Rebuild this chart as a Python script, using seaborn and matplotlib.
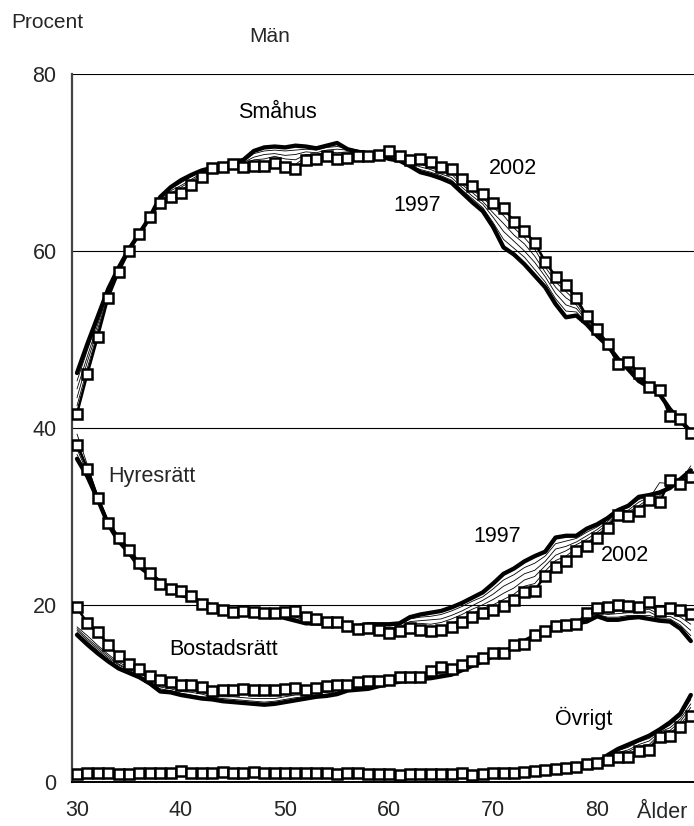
import matplotlib
matplotlib.use("Agg")
import matplotlib.pyplot as plt
import seaborn as sns

ages = list(range(30, 90))
years = [1997, 1998, 1999, 2000, 2001, 2002]

smahus_1997 = [46.2, 49.5, 52.6, 55.7, 58.1, 60.2, 62.0, 63.8, 66.1, 67.2,
               68.0, 68.6, 69.1, 69.4, 69.7, 70.0, 70.3, 71.3, 71.7, 71.8,
               71.7, 71.9, 71.8, 71.6, 71.9, 72.2, 71.5, 71.2, 71.0, 70.8,
               70.4, 70.2, 69.6, 68.9, 68.6, 68.2, 67.7, 66.6, 65.5, 64.5,
               62.7, 60.4, 59.6, 58.5, 57.2, 55.9, 54.0, 52.5, 52.7, 51.7,
               50.4, 49.3, 47.8, 46.6, 45.3, 44.6, 43.8, 42.1, 40.8, 39.6]
smahus_1998 = [45.3, 48.8, 52.1, 55.5, 58.0, 60.2, 62.0, 63.8, 66.0, 67.0,
               67.7, 68.4, 69.0, 69.4, 69.7, 70.0, 70.1, 71.0, 71.3, 71.4,
               71.3, 71.4, 71.5, 71.4, 71.7, 71.8, 71.6, 71.4, 71.2, 70.9,
               70.6, 70.3, 69.7, 69.2, 68.9, 68.5, 68.0, 66.9, 65.9, 64.9,
               63.2, 61.3, 60.3, 59.3, 57.9, 56.5, 54.6, 53.2, 53.1, 51.9,
               50.6, 49.3, 47.7, 46.8, 45.5, 44.6, 43.9, 41.9, 40.8, 39.6]
smahus_1999 = [44.4, 48.1, 51.7, 55.3, 57.9, 60.1, 62.0, 63.8, 65.8, 66.8,
               67.4, 68.1, 68.8, 69.4, 69.6, 69.9, 70.0, 70.6, 70.9, 71.0,
               70.8, 70.9, 71.2, 71.1, 71.4, 71.5, 71.4, 71.3, 71.0, 70.9,
               70.8, 70.4, 69.9, 69.5, 69.2, 68.7, 68.3, 67.2, 66.2, 65.3,
               63.8, 62.2, 61.1, 60.0, 58.7, 57.1, 55.2, 53.9, 53.5, 52.1,
               50.7, 49.4, 47.6, 47.0, 45.7, 44.6, 44.0, 41.8, 40.9, 39.5]
smahus_2000 = [43.4, 47.5, 51.2, 55.1, 57.8, 60.1, 61.9, 63.8, 65.7, 66.5,
               67.2, 67.9, 68.7, 69.4, 69.6, 69.9, 69.8, 70.3, 70.4, 70.7,
               70.4, 70.3, 70.9, 70.9, 71.2, 71.1, 71.2, 71.0, 70.9, 70.9,
               70.9, 70.5, 70.0, 69.8, 69.4, 69.0, 68.7, 67.5, 66.6, 65.6,
               64.3, 63.1, 61.8, 60.8, 59.4, 57.6, 55.9, 54.7, 53.9, 52.2,
               50.9, 49.4, 47.4, 47.1, 45.8, 44.6, 44.1, 41.6, 40.9, 39.5]
smahus_2001 = [42.5, 46.8, 50.8, 54.9, 57.7, 60.0, 61.9, 63.8, 65.5, 66.3,
               66.9, 67.6, 68.5, 69.4, 69.5, 69.8, 69.7, 69.9, 70.0, 70.3,
               69.9, 69.8, 70.6, 70.6, 70.9, 70.8, 70.9, 70.9, 70.8, 70.9,
               71.1, 70.6, 70.2, 70.1, 69.7, 69.2, 69.0, 67.8, 66.9, 66.0,
               64.9, 64.0, 62.6, 61.5, 60.2, 58.2, 56.5, 55.4, 54.3, 52.4,
               51.0, 49.5, 47.3, 47.3, 46.0, 44.6, 44.2, 41.5, 41.0, 39.4]
smahus_2002 = [41.6, 46.1, 50.3, 54.7, 57.6, 60.0, 61.9, 63.8, 65.4, 66.1,
               66.6, 67.4, 68.4, 69.4, 69.5, 69.8, 69.5, 69.6, 69.6, 69.9,
               69.5, 69.3, 70.3, 70.4, 70.7, 70.4, 70.5, 70.7, 70.7, 70.9,
               71.3, 70.7, 70.3, 70.4, 70.0, 69.5, 69.3, 68.1, 67.3, 66.4,
               65.4, 64.9, 63.3, 62.3, 60.9, 58.8, 57.1, 56.1, 54.7, 52.6,
               51.2, 49.5, 47.2, 47.5, 46.2, 44.6, 44.3, 41.3, 41.0, 39.4]

hyres_1997 = [36.5, 34.5, 31.9, 29.1, 27.2, 25.9, 24.3, 23.4, 22.6, 21.7,
              21.1, 20.8, 20.3, 19.9, 19.7, 19.4, 19.2, 19.1, 19.0, 18.8,
              18.5, 18.2, 17.9, 17.9, 17.8, 17.7, 17.6, 17.6, 17.8, 17.8,
              17.8, 17.9, 18.6, 18.9, 19.1, 19.3, 19.7, 20.2, 20.8, 21.4,
              22.4, 23.5, 24.1, 24.9, 25.5, 26.0, 27.6, 27.8, 27.8, 28.6,
              29.1, 29.8, 30.7, 31.2, 32.2, 32.4, 32.7, 33.2, 34.2, 35.2]
hyres_1998 = [37.0, 34.7, 32.0, 29.1, 27.3, 26.0, 24.4, 23.4, 22.6, 21.8,
              21.2, 20.8, 20.3, 19.8, 19.6, 19.4, 19.2, 19.1, 19.0, 18.9,
              18.6, 18.4, 18.0, 18.0, 17.8, 17.8, 17.6, 17.5, 17.7, 17.7,
              17.6, 17.7, 18.4, 18.6, 18.7, 18.9, 19.3, 19.8, 20.4, 20.9,
              21.8, 22.8, 23.4, 24.2, 24.7, 25.5, 26.9, 27.2, 27.5, 28.2,
              28.8, 29.6, 30.6, 31.0, 31.9, 32.3, 32.5, 33.4, 34.1, 35.0]
hyres_1999 = [37.6, 34.9, 32.0, 29.2, 27.4, 26.1, 24.5, 23.5, 22.5, 21.9,
              21.3, 20.9, 20.2, 19.8, 19.6, 19.3, 19.2, 19.1, 19.0, 18.9,
              18.8, 18.6, 18.2, 18.1, 17.9, 17.8, 17.6, 17.5, 17.6, 17.5,
              17.4, 17.5, 18.1, 18.2, 18.3, 18.4, 18.8, 19.3, 19.9, 20.5,
              21.2, 22.1, 22.7, 23.5, 23.9, 24.9, 26.3, 26.6, 27.1, 27.8,
              28.5, 29.4, 30.5, 30.7, 31.6, 32.2, 32.3, 33.6, 34.0, 35.7]
hyres_2000 = [38.6, 35.3, 32.1, 29.3, 27.6, 26.2, 24.7, 23.6, 22.6, 22.0,
              21.4, 20.9, 20.2, 19.7, 19.5, 19.3, 19.3, 19.2, 19.1, 19.0,
              18.9, 18.9, 18.3, 18.2, 17.9, 17.9, 17.6, 17.4, 17.6, 17.4,
              17.2, 17.4, 17.9, 17.9, 17.8, 18.0, 18.4, 18.9, 19.5, 20.0,
              20.6, 21.3, 21.9, 22.8, 23.2, 24.4, 25.6, 26.1, 26.8, 27.4,
              28.2, 29.1, 30.4, 30.5, 31.2, 32.0, 33.8, 33.7, 33.8, 34.7]
hyres_2001 = [39.3, 35.8, 32.3, 29.5, 27.8, 26.4, 24.9, 23.7, 22.8, 22.1,
              21.5, 21.0, 20.1, 19.7, 19.5, 19.2, 19.3, 19.2, 19.1, 19.0,
              19.1, 19.1, 18.5, 18.3, 18.0, 17.9, 17.6, 17.4, 17.5, 17.2,
              17.0, 17.2, 17.6, 17.5, 17.4, 17.5, 17.9, 18.4, 19.0, 19.6,
              20.0, 20.6, 21.2, 22.1, 22.4, 23.8, 25.0, 25.5, 26.4, 27.0,
              27.9, 28.9, 30.3, 30.2, 30.9, 31.9, 31.8, 33.9, 33.7, 34.6]
hyres_2002 = [38.1, 35.4, 32.1, 29.2, 27.6, 26.2, 24.7, 23.6, 22.4, 21.8,
              21.6, 21.0, 20.1, 19.6, 19.4, 19.2, 19.3, 19.2, 19.1, 19.1,
              19.2, 19.3, 18.6, 18.4, 18.0, 18.0, 17.6, 17.3, 17.4, 17.1,
              16.8, 17.0, 17.4, 17.2, 17.0, 17.1, 17.5, 18.0, 18.6, 19.1,
              19.4, 19.9, 20.5, 21.4, 21.6, 23.3, 24.3, 24.9, 26.1, 26.6,
              27.6, 28.7, 30.2, 30.0, 30.6, 31.8, 31.6, 34.1, 33.6, 34.4]

bostad_1997 = [16.6, 15.5, 14.5, 13.6, 12.8, 12.3, 11.8, 11.1, 10.2, 10.1,
               9.8, 9.6, 9.4, 9.3, 9.1, 9.0, 8.9, 8.8, 8.7, 8.8,
               9.0, 9.2, 9.4, 9.6, 9.7, 9.9, 10.3, 10.4, 10.5, 10.8,
               11.1, 11.3, 11.5, 11.6, 11.7, 11.9, 12.1, 12.6, 13.1, 13.6,
               14.2, 14.6, 15.3, 15.9, 16.5, 17.0, 17.4, 17.7, 17.9, 18.1,
               18.7, 18.3, 18.3, 18.5, 18.6, 18.4, 18.2, 18.1, 17.3, 15.9]
bostad_1998 = [16.9, 15.8, 14.8, 13.8, 13.0, 12.4, 11.9, 11.3, 10.5, 10.3,
               10.0, 9.8, 9.6, 9.5, 9.4, 9.3, 9.2, 9.1, 9.0, 9.1,
               9.3, 9.5, 9.6, 9.8, 9.9, 10.1, 10.4, 10.6, 10.7, 10.9,
               11.2, 11.4, 11.6, 11.6, 11.9, 12.1, 12.2, 12.7, 13.2, 13.7,
               14.3, 14.6, 15.3, 15.8, 16.5, 17.0, 17.4, 17.7, 17.9, 18.3,
               18.9, 18.6, 18.6, 18.8, 18.8, 18.8, 18.4, 18.4, 17.7, 16.5]
bostad_1999 = [17.1, 16.0, 15.0, 14.0, 13.2, 12.6, 12.0, 11.4, 10.7, 10.5,
               10.2, 10.1, 9.9, 9.6, 9.6, 9.6, 9.5, 9.4, 9.4, 9.4,
               9.6, 9.8, 9.8, 10.0, 10.1, 10.3, 10.5, 10.8, 10.9, 11.0,
               11.3, 11.5, 11.6, 11.7, 12.0, 12.3, 12.3, 12.8, 13.3, 13.8,
               14.4, 14.6, 15.4, 15.8, 16.5, 17.0, 17.5, 17.7, 17.9, 18.5,
               19.1, 18.9, 19.0, 19.1, 19.1, 19.2, 18.6, 18.7, 18.1, 17.1]
bostad_2000 = [17.3, 16.2, 15.2, 14.2, 13.3, 12.7, 12.2, 11.6, 10.9, 10.7,
               10.4, 10.3, 10.1, 9.8, 9.9, 9.8, 9.9, 9.8, 9.7, 9.8,
               9.9, 10.0, 10.0, 10.2, 10.4, 10.5, 10.7, 10.9, 11.0, 11.2,
               11.3, 11.6, 11.7, 11.7, 12.2, 12.6, 12.5, 13.0, 13.5, 13.8,
               14.4, 14.5, 15.4, 15.7, 16.6, 17.0, 17.5, 17.7, 17.8, 18.7,
               19.2, 19.2, 19.3, 19.3, 19.3, 19.5, 18.9, 19.0, 18.6, 17.8]
bostad_2001 = [17.5, 16.5, 15.4, 14.4, 13.5, 12.9, 12.3, 11.7, 11.1, 10.9,
               10.6, 10.6, 10.4, 10.0, 10.1, 10.1, 10.2, 10.1, 10.1, 10.1,
               10.2, 10.3, 10.2, 10.4, 10.6, 10.7, 10.8, 11.1, 11.2, 11.3,
               11.4, 11.7, 11.7, 11.8, 12.3, 12.8, 12.6, 13.1, 13.6, 13.9,
               14.5, 14.5, 15.5, 15.7, 16.6, 17.0, 17.6, 17.7, 17.8, 18.9,
               19.4, 19.5, 19.7, 19.6, 19.6, 19.9, 19.1, 19.3, 19.0, 18.4]
bostad_2002 = [19.7, 17.9, 16.9, 15.5, 14.2, 13.3, 12.7, 12.0, 11.5, 11.3,
               10.9, 10.9, 10.7, 10.2, 10.4, 10.4, 10.5, 10.4, 10.4, 10.4,
               10.5, 10.6, 10.4, 10.6, 10.8, 10.9, 10.9, 11.3, 11.4, 11.4,
               11.5, 11.8, 11.8, 11.8, 12.5, 13.0, 12.7, 13.2, 13.7, 14.0,
               14.6, 14.5, 15.5, 15.6, 16.6, 17.0, 17.6, 17.7, 17.8, 19.1,
               19.6, 19.8, 20.0, 19.9, 19.8, 20.3, 19.3, 19.6, 19.4, 19.0]

ovrigt_1997 = [0.8, 0.8, 0.8, 0.8, 0.8, 0.8, 0.8, 0.8, 0.8, 0.8,
               0.8, 0.8, 0.8, 0.8, 0.8, 0.8, 0.8, 0.8, 0.8, 0.8,
               0.8, 0.8, 0.8, 0.8, 0.8, 0.8, 0.8, 0.8, 0.8, 0.8,
               0.8, 0.8, 0.8, 0.8, 0.8, 0.8, 0.8, 0.8, 0.8, 0.8,
               0.8, 0.9, 0.9, 0.9, 0.9, 1.0, 1.2, 1.4, 1.6, 1.9,
               2.1, 3.0, 3.7, 4.2, 4.7, 5.2, 5.9, 6.7, 7.7, 9.8]
ovrigt_1998 = [0.8, 0.9, 0.9, 0.9, 0.8, 0.8, 0.9, 0.9, 0.9, 0.9,
               1.0, 0.9, 0.9, 0.9, 0.9, 0.9, 0.9, 0.9, 0.9, 0.9,
               0.9, 0.9, 0.9, 0.9, 0.9, 0.8, 0.9, 0.9, 0.8, 0.8,
               0.8, 0.8, 0.8, 0.8, 0.8, 0.8, 0.8, 0.9, 0.8, 0.8,
               0.9, 0.9, 0.9, 1.0, 1.0, 1.1, 1.3, 1.4, 1.6, 1.9,
               2.1, 2.9, 3.5, 3.9, 4.5, 4.9, 5.7, 6.4, 7.4, 9.3]
ovrigt_1999 = [0.9, 0.9, 0.9, 0.9, 0.9, 0.9, 0.9, 0.9, 0.9, 0.9,
               1.0, 0.9, 0.9, 0.9, 1.0, 0.9, 0.9, 1.0, 0.9, 0.9,
               0.9, 0.9, 0.9, 0.9, 0.9, 0.9, 0.9, 0.9, 0.9, 0.9,
               0.9, 0.8, 0.9, 0.9, 0.9, 0.9, 0.9, 0.9, 0.8, 0.9,
               0.9, 0.9, 0.9, 1.0, 1.0, 1.1, 1.3, 1.4, 1.6, 1.9,
               2.1, 2.8, 3.3, 3.6, 4.2, 4.6, 5.6, 6.1, 7.1, 8.8]
ovrigt_2000 = [0.9, 0.9, 1.0, 1.0, 0.9, 0.9, 0.9, 1.0, 1.0, 1.0,
               1.1, 1.0, 1.0, 1.0, 1.0, 1.0, 1.0, 1.0, 1.0, 1.0,
               1.0, 1.0, 1.0, 1.0, 1.0, 0.9, 0.9, 0.9, 0.9, 0.9,
               0.9, 0.8, 0.9, 0.9, 0.9, 0.9, 0.9, 1.0, 0.8, 0.9,
               0.9, 1.0, 1.0, 1.0, 1.1, 1.2, 1.3, 1.5, 1.7, 2.0,
               2.1, 2.6, 3.2, 3.4, 4.0, 4.2, 5.4, 5.8, 6.8, 8.4]
ovrigt_2001 = [0.9, 1.0, 1.0, 1.0, 0.9, 0.9, 1.0, 1.0, 1.0, 1.0,
               1.1, 1.0, 1.0, 1.0, 1.1, 1.0, 1.0, 1.0, 1.0, 1.0,
               1.0, 1.0, 1.0, 1.0, 1.0, 0.9, 1.0, 1.0, 0.9, 0.9,
               0.9, 0.8, 0.9, 0.9, 0.9, 0.9, 0.9, 1.0, 0.8, 0.9,
               1.0, 1.0, 1.0, 1.1, 1.1, 1.2, 1.4, 1.5, 1.7, 2.0,
               2.1, 2.5, 3.0, 3.1, 3.7, 3.9, 5.3, 5.5, 6.5, 7.9]
ovrigt_2002 = [0.9, 1.0, 1.0, 1.0, 0.9, 0.9, 1.0, 1.0, 1.0, 1.0,
               1.2, 1.0, 1.0, 1.0, 1.1, 1.0, 1.0, 1.1, 1.0, 1.0,
               1.0, 1.0, 1.0, 1.0, 1.0, 0.9, 1.0, 1.0, 0.9, 0.9,
               0.9, 0.8, 0.9, 0.9, 0.9, 0.9, 0.9, 1.0, 0.8, 0.9,
               1.0, 1.0, 1.0, 1.1, 1.2, 1.3, 1.4, 1.5, 1.7, 2.0,
               2.1, 2.4, 2.8, 2.8, 3.5, 3.6, 5.1, 5.2, 6.2, 7.4]

categories = ["Småhus", "Hyresrätt", "Bostadsrätt", "Övrigt"]
series = {
    "Småhus": [smahus_1997, smahus_1998, smahus_1999, smahus_2000, smahus_2001, smahus_2002],
    "Hyresrätt": [hyres_1997, hyres_1998, hyres_1999, hyres_2000, hyres_2001, hyres_2002],
    "Bostadsrätt": [bostad_1997, bostad_1998, bostad_1999, bostad_2000, bostad_2001, bostad_2002],
    "Övrigt": [ovrigt_1997, ovrigt_1998, ovrigt_1999, ovrigt_2000, ovrigt_2001, ovrigt_2002],
}

y_ticks = [0, 20, 40, 60, 80]
x_labels = [30, 40, 50, 60, 70, 80]

sns.set_style("white")
plt.rcParams['font.family'] = ['Liberation Sans', 'DejaVu Sans']

W, H = 694, 826
fig = plt.figure(figsize=(W / 100, H / 100), dpi=100)
x0, x1, ytop, ybot = 71.8, 696.0, 74.0, 781.7
ax = fig.add_axes([x0 / W, 1 - ybot / H, (x1 - x0) / W, (ybot - ytop) / H])

for cat in categories:
    for year, vals in zip(years, series[cat]):
        if year == 1997:
            sns.lineplot(x=ages, y=vals, ax=ax, color='black', linewidth=3.1,
                         zorder=3, solid_joinstyle='round')
        elif year == 2002:
            sns.lineplot(x=ages, y=vals, ax=ax, color='black', linewidth=1.8,
                         marker='s', markersize=6.8, markerfacecolor='white',
                         markeredgecolor='black', markeredgewidth=1.8, zorder=5)
        else:
            sns.lineplot(x=ages, y=vals, ax=ax, color='black', linewidth=0.6, zorder=4)

ax.set_xlim(29.5, 89.5)
ax.set_ylim(0, 80)
ax.set_yticks(y_ticks)
ax.set_yticklabels([str(v) for v in y_ticks], fontsize=15.5)
ax.set_xticks(x_labels)
ax.set_xticklabels([str(v) for v in x_labels], fontsize=15.5)
ax.set_xticks([v - 0.5 for v in x_labels], minor=True)
ax.tick_params(axis='x', which='major', length=0, pad=13)
ax.tick_params(axis='x', which='minor', length=6, width=1.2, direction='out', color='black')
ax.tick_params(axis='y', which='major', length=6, width=1.2, direction='out', pad=5, color='black')
ax.set_xlabel('')
ax.set_ylabel('')
ax.yaxis.grid(True, color='black', linewidth=0.8)
ax.xaxis.grid(False)
ax.set_axisbelow(True)
for s in ['top', 'right']:
    ax.spines[s].set_visible(False)
ax.spines['left'].set_color('#444444')
ax.spines['left'].set_linewidth(1.6)
ax.spines['bottom'].set_color('black')
ax.spines['bottom'].set_linewidth(1.4)

fs = 15.5
tk = dict(fontsize=fs, ha='center', va='center', color='black')
ax.text(49.3, 75.7, "Småhus", **tk)
ax.text(71.9, 69.3, "2002", **tk)
ax.text(62.7, 65.1, "1997", **tk)
ax.text(33.0, 34.5, "Hyresrätt", fontsize=fs, ha='left', va='center')
ax.text(70.4, 27.7, "1997", **tk)
ax.text(82.7, 25.6, "2002", **tk)
ax.text(44.1, 14.9, "Bostadsrätt", **tk)
ax.text(78.7, 7.2, "Övrigt", **tk)

fig.text(47 / W, 1 - 22 / H, "Procent", fontsize=15, ha='center', va='center')
fig.text(270 / W, 1 - 36 / H, "Män", fontsize=15, ha='center', va='center')
fig.text(662 / W, 1 - 812 / H, "Ålder", fontsize=15.5, ha='center', va='center')

fig.savefig("out.png", dpi=100)
